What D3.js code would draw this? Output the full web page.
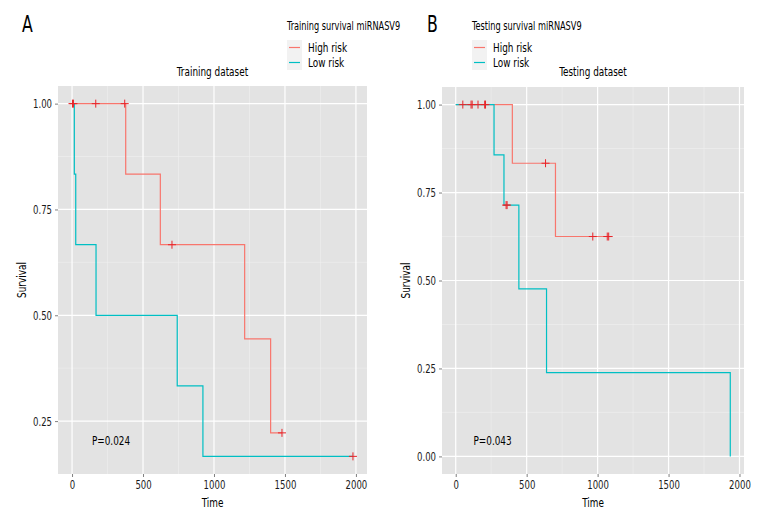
<!DOCTYPE html>
<html>
<head>
<meta charset="utf-8">
<script src="https://cdn.jsdelivr.net/npm/d3@7"></script>
<style>
body { margin: 0; background: #fff; }
text { font-family: "DejaVu Sans Condensed", "DejaVu Sans", sans-serif; font-stretch: condensed; }
</style>
</head>
<body>
<div id="viz"></div>
<script>
var width = 768, height = 528;
var highColor = "#F8766D", lowColor = "#00BFC4", censColor = "#E8252A";
var groups = ["High risk", "Low risk"];
var squeeze = 0.76; // narrow the glyphs, the original font is a condensed one

// training dataset (panel A)
var trainHighTime = [0, 378, 622, 1216, 1399, 1479];
var trainHighSurv = [1, 0.8333, 0.6667, 0.4444, 0.2222, 0.2222];
var trainHighCensTime = [3, 10, 167, 371, 704, 1479];
var trainHighCensSurv = [1, 1, 1, 1, 0.6667, 0.2222];
var trainLowTime = [0, 16, 26, 169, 741, 922, 1979];
var trainLowSurv = [1, 0.8333, 0.6667, 0.5, 0.3333, 0.1667, 0.1667];
var trainLowCensTime = [1979];
var trainLowCensSurv = [0.1667];

// testing dataset (panel B)
var testHighTime = [0, 399, 703, 1078];
var testHighSurv = [1, 0.8333, 0.625, 0.625];
var testHighCensTime = [50, 108, 116, 157, 204, 210, 633, 966, 1068, 1078];
var testHighCensSurv = [1, 1, 1, 1, 1, 1, 0.8333, 0.625, 0.625, 0.625];
var testLowTime = [0, 270, 340, 445, 640, 1935];
var testLowSurv = [1, 0.8571, 0.7143, 0.4762, 0.2381, 0];
var testLowCensTime = [355, 362];
var testLowCensSurv = [0.7143, 0.7143];

var xTicks = [0, 500, 1000, 1500, 2000];
var xMinor = [-250, 250, 750, 1250, 1750];
var yTicksA = [0.25, 0.50, 0.75, 1.00];
var yTicksB = [0, 0.25, 0.50, 0.75, 1.00];
var yMinor = [0.125, 0.375, 0.625, 0.875];

var zip = function(t, s) { return t.map(function(d, i) { return [d, s[i]]; }); };

var svg = d3.select("#viz").append("svg")
	.attr("width", width)
	.attr("height", height);

svg.append("rect")
	.attr("width", width)
	.attr("height", height)
	.style("fill", "#FFFFFF");

var expand = function(ext) {
	var pad = (ext[1] - ext[0]) * 0.05;
	return [ext[0] - pad, ext[1] + pad];
};

var drawPanel = function(p) {
	var x = d3.scaleLinear().domain(expand(p.xExt)).range([p.left, p.right]);
	var y = d3.scaleLinear().domain(expand(p.yExt)).range([p.bottom, p.top]);

	var g = svg.append("g");

	g.append("rect")
		.attr("x", p.left)
		.attr("y", p.top)
		.attr("width", p.right - p.left)
		.attr("height", p.bottom - p.top)
		.style("fill", "#E3E3E3");

	// minor grid
	g.selectAll(".vminor").data(xMinor.filter(function(d) { return x(d) > p.left; }))
		.enter().append("line")
		.attr("x1", x).attr("x2", x)
		.attr("y1", p.top).attr("y2", p.bottom)
		.style("stroke", "#F0F0F0").style("stroke-width", 0.6);
	g.selectAll(".hminor").data(yMinor.filter(function(d) { return y(d) < p.bottom && y(d) > p.top; }))
		.enter().append("line")
		.attr("y1", y).attr("y2", y)
		.attr("x1", p.left).attr("x2", p.right)
		.style("stroke", "#F0F0F0").style("stroke-width", 0.6);

	// major grid
	g.selectAll(".vmajor").data(xTicks)
		.enter().append("line")
		.attr("x1", x).attr("x2", x)
		.attr("y1", p.top).attr("y2", p.bottom)
		.style("stroke", "#FFFFFF").style("stroke-width", 1.2);
	g.selectAll(".hmajor").data(p.yTicks)
		.enter().append("line")
		.attr("y1", y).attr("y2", y)
		.attr("x1", p.left).attr("x2", p.right)
		.style("stroke", "#FFFFFF").style("stroke-width", 1.2);

	// axes
	var xAxis = g.append("g")
		.attr("transform", "translate(0," + p.bottom + ")")
		.call(d3.axisBottom(x).tickValues(xTicks).tickSize(3).tickPadding(3).tickFormat(d3.format("d")));
	var yAxis = g.append("g")
		.attr("transform", "translate(" + p.left + ",0)")
		.call(d3.axisLeft(y).tickValues(p.yTicks).tickSize(3).tickPadding(3).tickFormat(d3.format(".2f")));
	[xAxis, yAxis].forEach(function(a) {
		a.select(".domain").remove();
		a.attr("font-family", null).attr("font-size", null);
		a.selectAll(".tick line").style("stroke", "#7F7F7F");
		a.selectAll(".tick text").style("fill", "#1A1A1A").style("font-size", "12.5px");
	});

	// curves
	var line = d3.line()
		.curve(d3.curveStepAfter)
		.x(function(d) { return x(d[0]); })
		.y(function(d) { return y(d[1]); });

	g.append("path")
		.attr("d", line(zip(p.highTime, p.highSurv)))
		.style("fill", "none").style("stroke", highColor).style("stroke-width", 1.2);
	g.append("path")
		.attr("d", line(zip(p.lowTime, p.lowSurv)))
		.style("fill", "none").style("stroke", lowColor).style("stroke-width", 1.2);

	var cens = zip(p.highCensTime, p.highCensSurv).concat(zip(p.lowCensTime, p.lowCensSurv));
	g.selectAll(".cens").data(cens).enter().append("path")
		.attr("d", function(d) {
			var cx = x(d[0]), cy = y(d[1]), r = 4;
			return "M" + (cx - r) + "," + cy + "H" + (cx + r) + "M" + cx + "," + (cy - r) + "V" + (cy + r);
		})
		.style("stroke", censColor).style("stroke-width", 1);

	// labels
	g.append("text")
		.attr("x", (p.left + p.right) / 2)
		.attr("y", 76)
		.attr("text-anchor", "middle")
		.style("font-size", "13px")
		.text(p.title);
	g.append("text")
		.attr("x", (p.left + p.right) / 2)
		.attr("y", 507)
		.attr("text-anchor", "middle")
		.style("font-size", "13px")
		.text("Time");
	g.append("text")
		.attr("transform", "translate(" + (p.left - 32) + "," + ((p.top + p.bottom) / 2) + ") rotate(-90)")
		.attr("text-anchor", "middle")
		.style("font-size", "13px")
		.text("Survival");
	g.append("text")
		.attr("x", x(p.pPos[0]))
		.attr("y", y(p.pPos[1]))
		.attr("dy", "0.35em")
		.style("font-size", "13px")
		.text(p.pText);
	g.append("text")
		.attr("x", p.letterX)
		.attr("y", 32)
		.style("font-size", "23px")
		.text(p.letter);

	// legend
	var lg = g.append("g").attr("transform", "translate(" + p.legX + ",0)");
	lg.append("text")
		.attr("x", 0).attr("y", 30)
		.style("font-size", "12px")
		.text(p.legTitle);
	groups.forEach(function(name, i) {
		var ky = 40 + i * 15;
		lg.append("rect")
			.attr("x", 0).attr("y", ky)
			.attr("width", 15).attr("height", 15)
			.style("fill", "#F2F2F2");
		lg.append("line")
			.attr("x1", 2).attr("x2", 13)
			.attr("y1", ky + 7.5).attr("y2", ky + 7.5)
			.style("stroke", i == 0 ? highColor : lowColor).style("stroke-width", 1.2);
		lg.append("text")
			.attr("x", 21).attr("y", ky + 7.5)
			.attr("dy", "0.35em")
			.style("font-size", "13px")
			.text(name);
	});
};

drawPanel({
	left: 58, right: 367, top: 86, bottom: 474,
	xExt: [0, 1979], yExt: [0.1667, 1], yTicks: yTicksA,
	highTime: trainHighTime, highSurv: trainHighSurv,
	highCensTime: trainHighCensTime, highCensSurv: trainHighCensSurv,
	lowTime: trainLowTime, lowSurv: trainLowSurv,
	lowCensTime: trainLowCensTime, lowCensSurv: trainLowCensSurv,
	title: "Training dataset", pText: "P=0.024", pPos: [140, 0.205],
	letter: "A", letterX: 22, legX: 287, legTitle: "Training survival miRNASV9"
});

drawPanel({
	left: 442, right: 744, top: 87, bottom: 474,
	xExt: [0, 1935], yExt: [0, 1], yTicks: yTicksB,
	highTime: testHighTime, highSurv: testHighSurv,
	highCensTime: testHighCensTime, highCensSurv: testHighCensSurv,
	lowTime: testLowTime, lowSurv: testLowSurv,
	lowCensTime: testLowCensTime, lowCensSurv: testLowCensSurv,
	title: "Testing dataset", pText: "P=0.043", pPos: [125, 0.045],
	letter: "B", letterX: 427, legX: 472, legTitle: "Testing survival miRNASV9"
});

// squeeze every text horizontally about its anchor point
svg.selectAll("text").each(function() {
	var t = d3.select(this);
	var ax = +(t.attr("x") || 0);
	var tr = t.attr("transform") || "";
	t.attr("transform", tr + " translate(" + ax + ",0) scale(" + squeeze + ",1) translate(" + (-ax) + ",0)");
});
</script>
</body>
</html>
